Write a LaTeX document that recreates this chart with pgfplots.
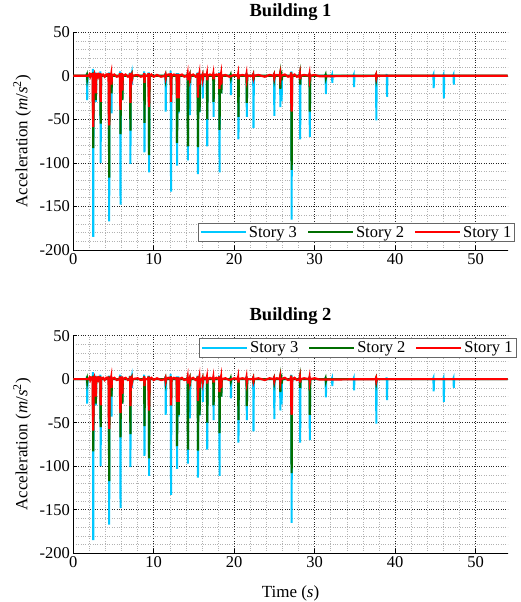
\documentclass[border=0pt]{standalone}
\usepackage{pgfplots}
\pgfplotsset{compat=1.18}
\usepackage{pgfplotstable}
\usepackage{fontspec}
\setmainfont{Liberation Serif}

\definecolor{sthree}{RGB}{0,200,255}
\definecolor{stwo}{RGB}{0,110,0}
\definecolor{sone}{RGB}{255,0,0}

% Story 3 (cyan)
\pgfplotstableread[row sep=\\]{
t a\\
0 0\\
1.65 0\\ 1.69 3\\ 1.73 -28\\ 1.78 0\\
2.40 0\\ 2.44 8\\ 2.48 -185\\ 2.53 0\\
2.72 0\\ 2.76 4\\ 2.80 -30\\ 2.85 0\\
3.32 0\\ 3.36 5\\ 3.40 -100\\ 3.45 0\\
4.38 0\\ 4.42 4\\ 4.46 -167\\ 4.51 0\\
4.67 0\\ 4.71 3\\ 4.75 -43\\ 4.80 0\\
5.79 0\\ 5.83 5\\ 5.87 -148\\ 5.92 0\\
6.02 0\\ 6.06 3\\ 6.10 -28\\ 6.15 0\\
7.02 0\\ 7.06 4\\ 7.10 -101\\ 7.15 0\\
7.22 0\\ 7.26 2\\ 7.30 -10\\ 7.35 0\\
8.77 0\\ 8.81 5\\ 8.85 -88\\ 8.90 0\\
9.34 0\\ 9.38 4\\ 9.42 -111\\ 9.47 0\\
11.41 0\\ 11.45 3\\ 11.49 -41\\ 11.54 0\\
12.07 0\\ 12.11 6\\ 12.15 -133\\ 12.20 0\\
12.82 0\\ 12.86 3\\ 12.90 -103\\ 12.95 0\\
13.02 0\\ 13.06 3\\ 13.10 -43\\ 13.15 0\\
14.17 0\\ 14.21 3\\ 14.25 -97\\ 14.30 0\\
14.42 0\\ 14.46 2\\ 14.50 -45\\ 14.55 0\\
15.42 0\\ 15.46 4\\ 15.50 -113\\ 15.55 0\\
15.62 0\\ 15.66 3\\ 15.70 -42\\ 15.75 0\\
16.02 0\\ 16.06 2\\ 16.10 -26\\ 16.15 0\\
16.57 0\\ 16.61 3\\ 16.65 -81\\ 16.70 0\\
17.36 0\\ 17.40 3\\ 17.44 -47\\ 17.49 0\\
18.10 0\\ 18.14 4\\ 18.18 -111\\ 18.23 0\\
18.32 0\\ 18.36 2\\ 18.40 -20\\ 18.45 0\\
19.52 0\\ 19.56 2\\ 19.60 -22\\ 19.65 0\\
20.45 0\\ 20.49 3\\ 20.53 -73\\ 20.58 0\\
21.49 0\\ 21.53 3\\ 21.57 -47\\ 21.62 0\\
22.32 0\\ 22.36 3\\ 22.40 -60\\ 22.45 0\\
24.91 0\\ 24.95 3\\ 24.99 -46\\ 25.04 0\\
25.66 0\\ 25.70 3\\ 25.74 -36\\ 25.79 0\\
25.82 0\\ 25.86 2\\ 25.90 -29\\ 25.95 0\\
27.06 0\\ 27.10 5\\ 27.14 -165\\ 27.19 0\\
28.12 0\\ 28.16 3\\ 28.20 -73\\ 28.25 0\\
29.32 0\\ 29.36 3\\ 29.40 -70\\ 29.45 0\\
31.32 0\\ 31.36 2\\ 31.40 -21\\ 31.45 0\\
32.12 0\\ 32.16 1\\ 32.20 -8\\ 32.25 0\\
34.82 0\\ 34.86 1\\ 34.90 -13\\ 34.95 0\\
37.59 0\\ 37.63 2\\ 37.67 -51\\ 37.72 0\\
38.92 0\\ 38.96 2\\ 39.00 -24\\ 39.05 0\\
44.72 0\\ 44.76 1\\ 44.80 -14\\ 44.85 0\\
45.98 0\\ 46.02 1\\ 46.06 -26\\ 46.11 0\\
47.22 0\\ 47.26 1\\ 47.30 -10\\ 47.35 0\\
54 0\\
}\storythree

% Story 2 (green)
\pgfplotstableread[row sep=\\]{
t a\\
0 0\\
1.65 0\\ 1.69 1\\ 1.73 -3\\ 1.78 0\\
2.40 0\\ 2.44 4\\ 2.48 -83\\ 2.53 0\\
2.72 0\\ 2.76 3\\ 2.80 -28\\ 2.85 0\\
3.32 0\\ 3.36 3\\ 3.40 -55\\ 3.45 0\\
4.38 0\\ 4.42 3\\ 4.46 -117\\ 4.51 0\\
4.67 0\\ 4.71 2\\ 4.75 -20\\ 4.80 0\\
5.79 0\\ 5.83 3\\ 5.87 -67\\ 5.92 0\\
6.02 0\\ 6.06 2\\ 6.10 -28\\ 6.15 0\\
7.02 0\\ 7.06 3\\ 7.10 -63\\ 7.15 0\\
7.22 0\\ 7.26 1\\ 7.30 -5\\ 7.35 0\\
8.77 0\\ 8.81 3\\ 8.85 -54\\ 8.90 0\\
9.34 0\\ 9.38 3\\ 9.42 -91\\ 9.47 0\\
11.41 0\\ 11.45 1\\ 11.49 -3\\ 11.54 0\\
12.07 0\\ 12.11 3\\ 12.15 -30\\ 12.20 0\\
12.82 0\\ 12.86 2\\ 12.90 -77\\ 12.95 0\\
13.02 0\\ 13.06 2\\ 13.10 -41\\ 13.15 0\\
14.17 0\\ 14.21 2\\ 14.25 -81\\ 14.30 0\\
14.42 0\\ 14.46 1\\ 14.50 -8\\ 14.55 0\\
15.42 0\\ 15.46 3\\ 15.50 -82\\ 15.55 0\\
15.62 0\\ 15.66 2\\ 15.70 -41\\ 15.75 0\\
16.02 0\\ 16.06 1\\ 16.10 -5\\ 16.15 0\\
16.57 0\\ 16.61 2\\ 16.65 -50\\ 16.70 0\\
17.36 0\\ 17.40 2\\ 17.44 -30\\ 17.49 0\\
18.10 0\\ 18.14 3\\ 18.18 -62\\ 18.23 0\\
18.32 0\\ 18.36 2\\ 18.40 -20\\ 18.45 0\\
19.52 0\\ 19.56 1\\ 19.60 -2\\ 19.65 0\\
20.45 0\\ 20.49 2\\ 20.53 -47\\ 20.58 0\\
21.49 0\\ 21.53 2\\ 21.57 -31\\ 21.62 0\\
22.32 0\\ 22.36 1\\ 22.40 -5\\ 22.45 0\\
24.91 0\\ 24.95 1\\ 24.99 -3\\ 25.04 0\\
25.66 0\\ 25.70 2\\ 25.74 -15\\ 25.79 0\\
25.82 0\\ 25.86 1\\ 25.90 -5\\ 25.95 0\\
27.06 0\\ 27.10 4\\ 27.14 -108\\ 27.19 0\\
28.12 0\\ 28.16 2\\ 28.20 -10\\ 28.25 0\\
29.32 0\\ 29.36 2\\ 29.40 -41\\ 29.45 0\\
31.32 0\\ 31.36 1\\ 31.40 -2\\ 31.45 0\\
37.59 0\\ 37.63 1\\ 37.67 -3\\ 37.72 0\\
54 0\\
}\storytwo

% Story 1 (red)
\pgfplotstableread[row sep=\\]{
t a\\
0 0\\
1.90 0\\ 2.00 1.5\\ 2.10 -1\\ 2.20 1.5\\
2.36 0\\ 2.40 3\\ 2.44 -40\\ 2.48 -59\\ 2.55 0\\
2.62 2\\ 2.68 -1\\
2.72 0\\ 2.76 3\\ 2.80 -20\\ 2.85 0\\
3.00 1.5\\ 3.10 -1\\ 3.20 1.5\\
3.32 0\\ 3.36 3\\ 3.40 -30\\ 3.45 0\\
3.70 1.5\\ 3.90 -1\\ 4.10 1.5\\
4.34 0\\ 4.38 3\\ 4.42 -45\\ 4.46 -57\\ 4.53 0\\
4.67 0\\ 4.71 2\\ 4.75 -10\\ 4.80 0\\
5.10 1.5\\ 5.40 -1\\
5.75 0\\ 5.79 3\\ 5.83 -30\\ 5.87 -39\\ 5.94 0\\
6.02 0\\ 6.06 3\\ 6.10 -17\\ 6.15 0\\
6.50 1.5\\ 6.80 -1\\
7.02 0\\ 7.06 3\\ 7.10 -31\\ 7.15 0\\
7.22 0\\ 7.26 1\\ 7.30 -3\\ 7.35 0\\
8.00 1\\ 8.40 -1\\
8.77 0\\ 8.81 3\\ 8.85 -8\\ 8.90 0\\
9.30 0\\ 9.34 3\\ 9.38 -28\\ 9.42 -36\\ 9.49 0\\
9.70 1.5\\ 10.00 -1\\ 10.40 1\\ 10.90 -1\\
11.41 0\\ 11.45 1\\ 11.49 -2\\ 11.54 0\\
11.80 1.5\\
12.07 0\\ 12.11 3\\ 12.15 -30\\ 12.20 0\\
12.50 1.5\\
12.82 0\\ 12.86 2\\ 12.90 -26\\ 12.95 0\\
13.02 0\\ 13.06 2\\ 13.10 -26\\ 13.15 0\\
13.50 1.5\\ 13.80 -1\\
14.17 0\\ 14.21 2\\ 14.25 -5\\ 14.30 0\\
14.42 0\\ 14.46 1\\ 14.50 -3\\ 14.55 0\\
14.90 1.5\\ 15.20 -1\\
15.42 0\\ 15.46 3\\ 15.50 -25\\ 15.55 0\\
15.62 0\\ 15.66 2\\ 15.70 -10\\ 15.75 0\\
16.02 0\\ 16.06 1\\ 16.10 -3\\ 16.15 0\\
16.35 1.5\\
16.57 0\\ 16.61 2\\ 16.65 -5\\ 16.70 0\\
17.00 1.5\\
17.36 0\\ 17.40 2\\ 17.44 -4\\ 17.49 0\\
17.80 1.5\\
18.10 0\\ 18.14 3\\ 18.18 -15\\ 18.23 0\\
18.32 0\\ 18.36 2\\ 18.40 -10\\ 18.45 0\\
18.90 1\\ 19.40 -1\\ 20.00 1\\
20.45 0\\ 20.49 2\\ 20.53 -4\\ 20.58 0\\
21.00 1\\
21.49 0\\ 21.53 2\\ 21.57 -3\\ 21.62 0\\
22.32 0\\ 22.36 1\\ 22.40 -2\\ 22.45 0\\
23.00 1\\ 23.80 -1\\ 24.40 1\\
24.91 0\\ 24.95 1\\ 24.99 -2\\ 25.04 0\\
25.30 1\\
25.66 0\\ 25.70 2\\ 25.74 -3\\ 25.79 0\\
26.30 1.5\\ 26.70 -1\\
27.02 0\\ 27.06 4\\ 27.10 -30\\ 27.14 -41\\ 27.21 0\\
27.50 1.5\\ 27.80 -1\\
28.12 0\\ 28.16 2\\ 28.20 -4\\ 28.25 0\\
28.70 1\\
29.32 0\\ 29.36 2\\ 29.40 -3\\ 29.45 0\\
30.00 1\\ 30.60 -0.5\\
37.59 0\\ 37.63 1\\ 37.67 -2\\ 37.72 0\\
54 0\\
}\storyone

\pgfplotsset{
  bstyle/.style={
    scale only axis, width=434.4pt, height=217.7pt,
    xmin=0, xmax=54, ymin=-200, ymax=50,
    xtick={0,10,...,50}, ytick={-200,-150,...,50},
    xticklabels={0,10,20,30,40,50},
    yticklabels={-200,-150,-100,-50,0,50},
    minor x tick num=4, minor y tick num=4,
    grid=both,
    major grid style={black!85, dotted, line width=0.6pt},
    minor grid style={black!30, dotted, line width=0.5pt},
    axis x line*=bottom, axis y line*=left,
    axis line style={-, black, line width=0.8pt},
    tick align=inside, major tick length=4pt, minor tick length=0pt,
    tick style={black, line width=0.6pt},
    tick label style={font=\fontsize{16.5}{19}\selectfont},
    title style={font=\bfseries\fontsize{18.5}{21}\selectfont, anchor=center},
    every axis y label/.style={at={(axis description cs:-0.118,0.5)}, rotate=90, anchor=center, font=\fontsize{17}{20}\selectfont},
    ylabel={Acceleration (\textit{m}/\textit{s}\textsuperscript{2})},
    legend columns=3,
    legend cell align=left,
    legend image code/.code={\draw[##1, line width=2pt, line cap=butt] (0pt,0pt) -- (45pt,0pt);},
    legend style={draw=black!60, line width=0.8pt, fill=white, anchor=north west,
      font=\fontsize{16.5}{19}\selectfont, inner xsep=1.5pt, inner ysep=1pt,
      /tikz/every even column/.append style={column sep=8pt}},
  },
  s3/.style={color=sthree, line width=2pt},
  s2/.style={color=stwo, line width=2.2pt},
  s1/.style={color=sone, line width=2.2pt},
}

\begin{document}
\begin{tikzpicture}
\useasboundingbox (0,0) rectangle (521pt,602pt);
\begin{axis}[bstyle, at={(73.3pt,352pt)}, anchor=south west,
  title={Building 1}, title style={at={(axis description cs:0.5,1.064)}},
  legend style={at={(axis description cs:0.287,0.125)}}]
\addplot[s3] table {\storythree};
\addplot[s2] table {\storytwo};
\addplot[s1] table {\storyone};
\legend{Story 3, Story 2, Story 1}
\end{axis}
\begin{axis}[bstyle, at={(73.3pt,48.7pt)}, anchor=south west,
  title={Building 2}, title style={at={(axis description cs:0.5,1.061)}},
  xlabel={Time (\textit{s})},
  every axis x label/.style={at={(axis description cs:0.5,-0.183)}, anchor=center, font=\fontsize{17}{20}\selectfont},
  legend style={at={(axis description cs:0.29,0.988)}}]
\addplot[s3] table {\storythree};
\addplot[s2] table {\storytwo};
\addplot[s1] table {\storyone};
\legend{Story 3, Story 2, Story 1}
\end{axis}
\end{tikzpicture}
\end{document}
